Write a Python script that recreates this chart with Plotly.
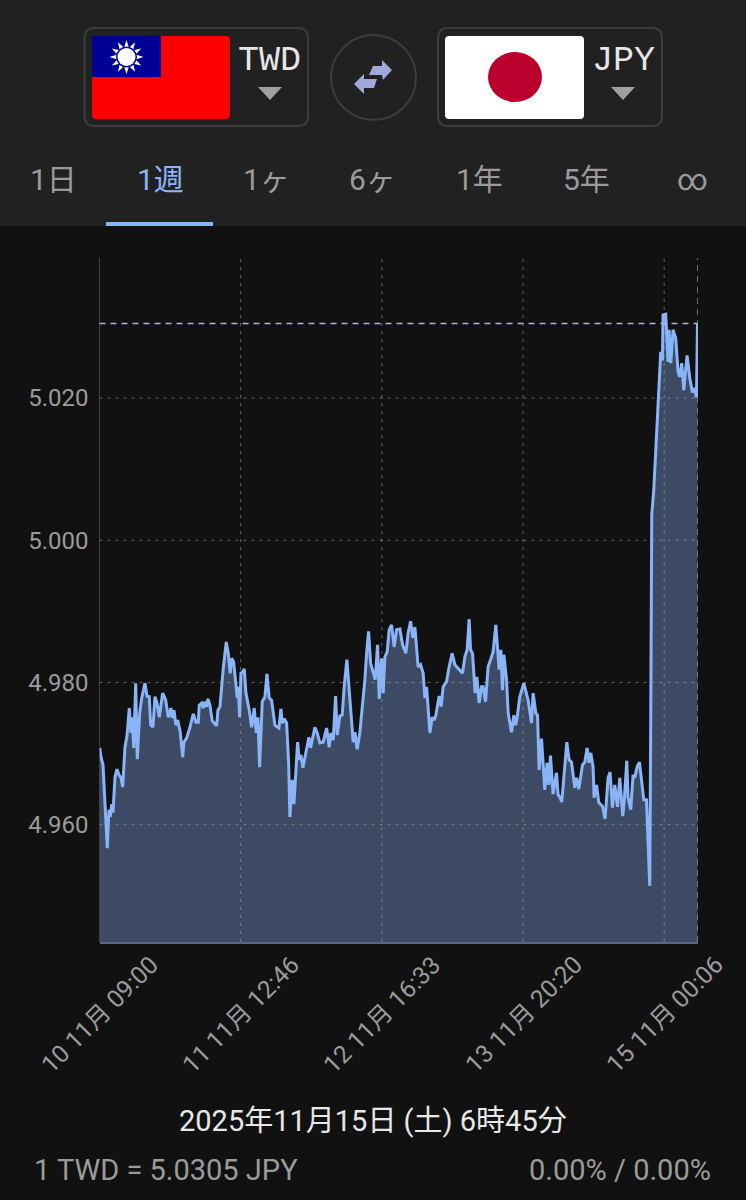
import math
import pandas as pd
import plotly.graph_objects as go

START = "2025-11-10 09:00"
END = "2025-11-15 06:45"

hours = [0.04,0.3,0.69,0.94,1.28,1.53,1.73,1.87,2.12,2.4,2.65,3.05,3.44,3.83,4.23,4.56,5.01,5.41,5.86,6.19,6.45,6.73,7.12,7.43,7.91,8.3,8.95,9.34,9.79,10.07,10.52,10.91,11.31,11.76,12.43,13.02,13.53,14.06,14.32,14.65,15.04,15.38,15.89,16.36,16.62,17.15,17.8,18.45,18.98,19.43,19.63,20.1,20.41,20.75,21.08,21.34,21.73,22.18,23.05,23.3,23.7,23.95,24.35,24.94,25.33,25.72,26.0,26.39,26.78,27.1,27.3,27.57,27.83,28.16,28.48,28.81,29.46,29.93,30.44,30.84,31.17,31.5,32.02,32.55,32.94,33.39,33.86,34.51,35.3,35.69,35.95,36.34,36.81,37.21,37.46,37.92,38.25,38.98,39.29,39.63,40.02,40.41,41.2,41.53,42.38,42.83,43.36,44.01,44.68,45.19,45.53,45.98,46.45,46.77,47.3,47.75,48.14,48.67,49.26,49.91,50.25,50.7,51.23,51.68,52.21,52.55,52.94,53.33,53.73,54.24,54.71,55.03,55.5,55.81,56.15,56.6,56.99,57.46,57.97,58.45,59.1,59.63,60.27,60.73,61.2,61.65,62.05,62.69,63.17,63.68,64.01,64.35,65.0,65.45,65.84,66.18,66.82,67.22,67.61,68.28,68.79,69.38,69.91,70.56,71.43,71.88,72.33,72.73,73.0,73.39,73.9,74.24,74.69,75.16,75.48,75.95,76.46,76.93,77.44,77.97,78.31,78.62,78.96,79.29,79.55,80.08,80.4,81.06,81.52,81.85,82.16,82.69,83.48,84.33,85.0,85.31,85.84,86.18,86.49,86.96,87.61,88.06,88.4,88.73,89.24,89.91,90.22,90.56,90.95,91.35,91.94,92.39,92.86,93.51,93.85,94.3,95.02,95.48,95.93,96.32,96.66,97.11,97.31,97.78,98.23,98.96,99.47,100.06,100.45,100.92,101.38,101.91,102.36,102.95,103.28,103.74,103.99,104.52,104.98,105.31,105.76,106.23,106.69,107.08,107.61,107.93,108.26,108.46,108.65,109.05,109.44,109.73,110.09,110.42,110.76,110.87,111.4,111.86,112.05,112.39,112.84,113.37,113.82,114.16,114.55,114.95,115.6,116.13,116.66,117.11,117.45,117.65]

rates = [4.9708,4.9695,4.9684,4.9649,4.9621,4.9567,4.96,4.9621,4.9611,4.9629,4.9617,4.9667,4.9678,4.967,4.9666,4.9653,4.9709,4.9725,4.9764,4.9729,4.9751,4.9708,4.9799,4.9692,4.9757,4.9778,4.9799,4.9781,4.978,4.974,4.9737,4.978,4.9771,4.9751,4.9785,4.9775,4.9751,4.9764,4.975,4.9761,4.974,4.9747,4.973,4.9695,4.9716,4.9722,4.9737,4.9756,4.9744,4.9744,4.9768,4.9771,4.9764,4.9773,4.9766,4.9777,4.9768,4.9746,4.9739,4.9761,4.9766,4.9789,4.982,4.9857,4.9841,4.9813,4.9834,4.9829,4.9794,4.9778,4.9794,4.9751,4.9813,4.9815,4.9819,4.9785,4.9761,4.9737,4.9764,4.9729,4.9751,4.9681,4.9773,4.978,4.9812,4.9778,4.9775,4.974,4.9736,4.9763,4.9743,4.9749,4.9743,4.9687,4.9611,4.9663,4.9629,4.9716,4.9691,4.9698,4.968,4.9695,4.9723,4.9708,4.9737,4.9729,4.9715,4.9716,4.9736,4.9709,4.9729,4.9719,4.9781,4.9726,4.9753,4.9754,4.9794,4.9832,4.978,4.9716,4.973,4.9706,4.973,4.9761,4.9804,4.9841,4.9872,4.9827,4.9815,4.9804,4.9853,4.9777,4.9834,4.9785,4.9836,4.9843,4.9874,4.9881,4.985,4.9874,4.9875,4.9853,4.9841,4.987,4.9886,4.9863,4.9878,4.9822,4.9825,4.9813,4.9778,4.9794,4.9729,4.9751,4.9747,4.9754,4.9781,4.9766,4.9794,4.9801,4.9822,4.9841,4.9825,4.982,4.9813,4.9836,4.9846,4.9889,4.9846,4.9841,4.9785,4.9808,4.9771,4.9794,4.9794,4.9773,4.9822,4.9832,4.9843,4.9881,4.9853,4.9818,4.9846,4.9789,4.9839,4.9804,4.9757,4.973,4.9754,4.974,4.975,4.978,4.9799,4.9775,4.9743,4.9785,4.9757,4.9754,4.9677,4.9721,4.9649,4.9687,4.9656,4.9697,4.9643,4.9673,4.9642,4.9639,4.9632,4.9663,4.9716,4.9691,4.9688,4.9652,4.9666,4.965,4.9684,4.9688,4.9708,4.9687,4.9701,4.9681,4.9638,4.9656,4.9631,4.9626,4.9608,4.9666,4.9674,4.9624,4.9656,4.9625,4.9666,4.9612,4.9638,4.969,4.9638,4.9621,4.967,4.9666,4.9681,4.9688,4.9656,4.9635,4.9635,4.9564,4.9514,4.9755,5.0036,5.0071,5.0127,5.0162,5.0206,5.0265,5.0253,5.0317,5.0318,5.0251,5.0296,5.0249,5.0296,5.0284,5.0237,5.023,5.0249,5.0211,5.026,5.0228,5.0208,5.0214,5.0201,5.0305]

y_ticks = [4.96, 4.98, 5.00, 5.02]
y_labels = ["4.960", "4.980", "5.000", "5.020"]
x_ticks = ["2025-11-10 09:00", "2025-11-11 12:46", "2025-11-12 16:33", "2025-11-13 20:20", "2025-11-15 00:06"]
x_labels = ["10 11月 09:00", "11 11月 12:46", "12 11月 16:33", "13 11月 20:20", "15 11月 00:06"]
tabs = ["1日", "1週", "1ヶ", "6ヶ", "1年", "5年", "∞"]
current_rate = 5.0305

W, H = 746, 1200
BG, HEADER, GREY, BLUE = "#111111", "#212121", "#9b9b9b", "#8ab4f8"
FONT = "Roboto, 'Noto Sans CJK JP', sans-serif"

px = lambda x: x / W
py = lambda y: 1 - y / H
times = pd.Timestamp(START) + pd.to_timedelta(hours, unit="h")


def poly(points):
    return "M " + " L ".join(f"{px(a):.5f},{py(b):.5f}" for a, b in points) + " Z"


def rrect(x0, y0, x1, y1, r):
    p = lambda a, b: f"{px(a):.5f},{py(b):.5f}"
    return (f"M {p(x0+r,y0)} L {p(x1-r,y0)} Q {p(x1,y0)} {p(x1,y0+r)} L {p(x1,y1-r)} Q {p(x1,y1)} {p(x1-r,y1)} "
            f"L {p(x0+r,y1)} Q {p(x0,y1)} {p(x0,y1-r)} L {p(x0,y0+r)} Q {p(x0,y0)} {p(x0+r,y0)} Z")


def box(x0, y0, x1, y1, fill=None, line=None, width=0, kind="rect", layer="above"):
    return dict(type=kind, xref="paper", yref="paper", x0=px(x0), x1=px(x1), y0=py(y0), y1=py(y1),
                fillcolor=fill, line=dict(color=line, width=width), layer=layer)


def path(d, fill=None, line=None, width=0):
    return dict(type="path", xref="paper", yref="paper", path=d, fillcolor=fill,
                line=dict(color=line, width=width), layer="above")


def note(x, y, text, size, color, anchor="center", family=FONT):
    return dict(xref="paper", yref="paper", x=px(x), y=py(y), text=text, showarrow=False, xanchor=anchor,
                yanchor="middle", font=dict(size=size, color=color, family=family))


fig = go.Figure(go.Scatter(x=times, y=rates, mode="lines", fill="tozeroy",
                           line=dict(color=BLUE, width=3), fillcolor="rgba(138,180,248,0.36)",
                           hoverinfo="skip"))

# sun rays of the flag
sun = []
cx, cy = 126.5, 57
for i in range(24):
    r = 17 if i % 2 == 0 else 9.5
    a = math.pi * i / 12
    sun.append((cx + r * math.sin(a), cy - r * math.cos(a)))

shapes = [
    box(0, 0, W, 226, HEADER, layer="below"),
    box(106, 222, 213, 226, BLUE),
    path(rrect(84.5, 28, 308, 126, 10), None, "#3d3d3d", 2),
    path(rrect(438, 28, 662, 126, 10), None, "#3d3d3d", 2),
    path(rrect(92, 36, 230, 119, 4), "#fe0000"),
    box(92, 36, 161, 77, "#000095"),
    path(poly(sun), "#ffffff"),
    box(cx - 10.5, cy - 10.5, cx + 10.5, cy + 10.5, "#000095", kind="circle"),
    box(cx - 9, cy - 9, cx + 9, cy + 9, "#ffffff", kind="circle"),
    path(rrect(445, 36, 584, 119, 4), "#ffffff"),
    box(488, 52, 542, 102, "#bc002d", kind="circle"),
    box(331, 35, 416, 120, None, "#3d3d3d", 2, kind="circle"),
    path(poly([(258, 87), (282, 87), (270, 100)]), "#a0a0a0"),
    path(poly([(611, 87), (635, 87), (623, 100)]), "#a0a0a0"),
    path(poly([(373, 66), (382, 66), (382, 60), (392, 70), (383, 80), (382, 75), (369, 75)]), "#9fa8da"),
    path(poly([(377, 79), (364, 79), (364, 74), (354, 84), (364, 94), (364, 88), (374, 88)]), "#9fa8da"),
]

# grid and crosshair sit above the fill, drawn from the axis values
for v in y_ticks:
    shapes.append(dict(type="line", xref="x domain", yref="y", x0=0, x1=1, y0=v, y1=v, layer="above",
                       line=dict(color="rgba(175,175,175,0.55)", width=1, dash="3px,5px")))
for t in x_ticks[1:]:
    shapes.append(dict(type="line", xref="x", yref="y domain", x0=t, x1=t, y0=0, y1=1, layer="above",
                       line=dict(color="rgba(175,175,175,0.55)", width=1, dash="3px,5px")))
shapes.append(dict(type="line", xref="x", yref="y domain", x0=x_ticks[0], x1=x_ticks[0], y0=0, y1=1, layer="above",
                   line=dict(color="#6e6e6e", width=1)))
shapes.append(dict(type="line", xref="x domain", yref="y", x0=0, x1=1, y0=current_rate, y1=current_rate, layer="above",
                   line=dict(color="#aeb3e6", width=1.5, dash="6px,5px")))
shapes.append(dict(type="line", xref="x", yref="y domain", x0=END, x1=END, y0=0, y1=1, layer="above",
                   line=dict(color="#a6a8bc", width=1.2, dash="6px,5px")))

annotations = [
    note(269.5, 61, "TWD", 35, "#e6e6e6", family="'Liberation Mono', monospace"),
    note(623, 61, "JPY", 35, "#e6e6e6", family="'Liberation Mono', monospace"),
    note(373, 1121, "2025年11月15日 (土) 6時45分", 29, "#e8e8e8"),
    note(32, 1170, f"1 TWD = {current_rate:.4f} JPY", 29, GREY, "left"),
    note(713, 1170, "0.00% / 0.00%", 29, GREY, "right"),
]
for cxp, t in zip([53, 160, 266, 372, 479, 586, 692], tabs):
    annotations.append(note(cxp, 179, t, 30, BLUE if t == "1週" else GREY))
for t, label in zip(x_ticks, x_labels):
    annotations.append(dict(xref="x", yref="paper", x=t, y=py(1014), text=label, showarrow=False,
                            textangle=-45, xanchor="center", yanchor="middle",
                            font=dict(size=24.5, color=GREY, family=FONT)))

fig.update_layout(
    width=W, height=H, margin=dict(l=0, r=0, t=0, b=0, pad=0), showlegend=False,
    paper_bgcolor=BG, plot_bgcolor=BG, shapes=shapes, annotations=annotations,
    font=dict(family=FONT),
    xaxis=dict(domain=[99.5 / W, 698 / W], type="date", range=[START, END], tickvals=x_ticks,
               showticklabels=False, showgrid=False, zeroline=False, ticks="",
               showline=True, linecolor="#5d6780", linewidth=2),
    yaxis=dict(domain=[py(942), py(258)], range=[4.9435, 5.0397], tickvals=y_ticks, ticktext=y_labels,
               showgrid=False, zeroline=False, ticks="", ticklabelstandoff=10,
               tickfont=dict(size=24, color=GREY, family=FONT)),
)

fig.write_html("out.html", config=dict(displayModeBar=False),
               post_script="document.body.style.margin='0';document.body.style.background='#111111';")
